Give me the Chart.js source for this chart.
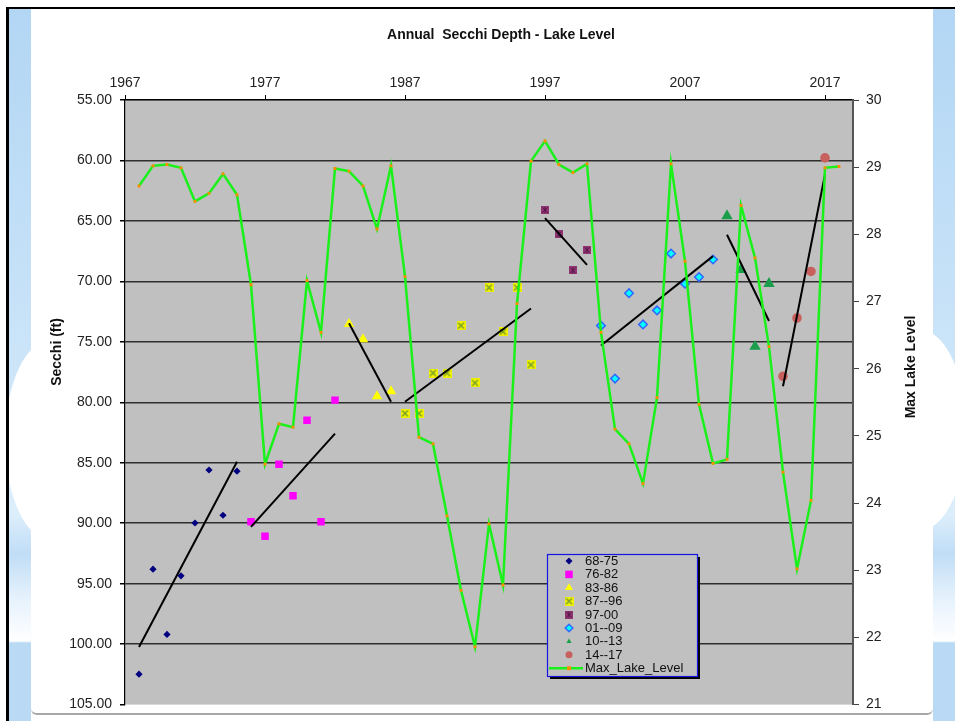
<!DOCTYPE html>
<html>
<head>
<meta charset="utf-8">
<title>Annual Secchi Depth - Lake Level</title>
<script src="https://cdn.jsdelivr.net/npm/chart.js@4.4.1/dist/chart.umd.min.js"></script>
<style>
    html, body { margin: 0; padding: 0; background: #fff; }
    #page { position: relative; width: 955px; height: 721px; overflow: hidden; background: #fff; }
    .topline { position: absolute; left: 6px; top: 7px; right: 0; height: 2px; background: #000; }
    .leftline { position: absolute; left: 6px; top: 7px; width: 3px; bottom: 0; background: #000; }
    .strip { position: absolute; top: 9px; width: 22px; bottom: 0; overflow: hidden;
        background: linear-gradient(to bottom, #b2d6f4 0px, #c9e3f8 320px, #ddeefb 505px, #c0ddf6 545px,
            #e6f2fc 590px, #ffffff 632px, #b9d9f5 634px, #b9d9f5 100%); }
    .strip.left { left: 9px; }
    .strip.right { left: 933px; }
    .blob { position: absolute; width: 92px; height: 200px; border-radius: 50%; background: #fff; }
    .strip.left .blob { left: -4px; top: 331px; }
    .strip.right .blob { left: -59px; top: 321px; }
    .frame { position: absolute; left: 31px; top: 9px; width: 902px; height: 704px; background: #fff;
        border-bottom: 2px solid #a8a8a8; border-radius: 0 0 6px 6px; }
    #lakeChart { position: absolute; left: 0; top: 0; }
</style>
</head>
<body>
<div id="page">
    <div class="strip left"><div class="blob"></div></div>
    <div class="strip right"><div class="blob"></div></div>
    <div class="frame"></div>
    <div class="topline"></div>
    <div class="leftline"></div>
    <canvas id="lakeChart" width="955" height="721"></canvas>
</div>
<script>
// Max lake level (right axis), one value per year
const levelYears = [1968, 1969, 1970, 1971, 1972, 1973, 1974, 1975, 1976, 1977,
    1978, 1979, 1980, 1981, 1982, 1983, 1984, 1985, 1986, 1987,
    1988, 1989, 1990, 1991, 1992, 1993, 1994, 1995, 1996, 1997,
    1998, 1999, 2000, 2001, 2002, 2003, 2004, 2005, 2006, 2007,
    2008, 2009, 2010, 2011, 2012, 2013, 2014, 2015, 2016, 2017, 2018];
const maxLakeLevel = [28.72, 29.02, 29.04, 28.99, 28.49, 28.61, 28.90, 28.59, 27.25, 24.58,
    25.18, 25.13, 27.31, 26.54, 28.98, 28.94, 28.72, 28.08, 29.02, 27.37,
    24.98, 24.88, 23.81, 22.70, 21.86, 23.69, 22.78, 26.97, 29.09, 29.39,
    29.04, 28.92, 29.05, 26.54, 25.10, 24.88, 24.29, 25.57, 29.05, 27.60,
    25.47, 24.59, 24.65, 28.43, 27.65, 26.33, 24.46, 23.02, 24.04, 28.99, 29.01];

// Annual Secchi depth (left axis, ft)
const secchiYears = [1968, 1969, 1970, 1971, 1972, 1973, 1974, 1975, 1976, 1977,
    1978, 1979, 1980, 1981, 1982, 1983, 1984, 1985, 1986, 1987,
    1988, 1989, 1990, 1991, 1992, 1993, 1994, 1995, 1996, 1997,
    1998, 1999, 2000, 2001, 2002, 2003, 2004, 2005, 2006, 2007,
    2008, 2009, 2010, 2011, 2012, 2013, 2014, 2015, 2016, 2017];
const secchiDepth = [102.48, 93.80, 99.20, 94.35, 89.98, 85.60, 89.34, 85.70, 89.87, 91.07,
    85.13, 87.73, 81.49, 89.87, 79.82, 73.53, 74.79, 79.49, 79.08, 80.92,
    80.92, 77.58, 77.58, 73.66, 78.40, 70.52, 74.16, 70.52, 76.90, 64.09,
    66.11, 69.09, 67.40, 73.66, 78.04, 70.98, 73.56, 72.40, 67.70, 70.19,
    69.64, 68.19, 64.58, 69.04, 75.39, 70.19, 77.85, 73.03, 69.18, 59.79];

// Period groups and their trend lines (secchi at first / last year)
const groupLabels = ['68-75', '76-82', '83-86', '87--96', '97-00', '01--09', '10--13', '14--17'];
const groupFirst = [1968, 1976, 1983, 1987, 1997, 2001, 2010, 2014];
const groupLast = [1975, 1982, 1986, 1996, 2000, 2009, 2013, 2017];
const trendStart = [100.24, 90.30, 73.47, 79.95, 64.77, 75.30, 66.14, 78.67];
const trendEnd = [84.91, 82.59, 79.96, 72.24, 68.63, 67.91, 73.28, 61.16];

// Axis ticks
const yearTicks = [1967, 1977, 1987, 1997, 2007, 2017];
const secchiTicks = [55, 60, 65, 70, 75, 80, 85, 90, 95, 100, 105];
const levelTicks = [21, 22, 23, 24, 25, 26, 27, 28, 29, 30];

const chartTitle = 'Annual  Secchi Depth - Lake Level';
const leftTitle = 'Secchi (ft)';
const rightTitle = 'Max Lake Level';
const levelLabel = 'Max_Lake_Level';

const FONT = '"Liberation Sans", Arial, sans-serif';

// small canvas markers for the two patterned series
function makeMarker(size, draw) {
    const c = document.createElement('canvas');
    c.width = size;
    c.height = size;
    draw(c.getContext('2d'), size);
    return c;
}
const crossMarker = makeMarker(9, function (g, s) {
    g.fillStyle = '#f2f200';
    g.fillRect(0, 0, s, s);
    g.strokeStyle = '#6f9a30';
    g.lineWidth = 1.3;
    g.beginPath();
    g.moveTo(1.5, 1.5); g.lineTo(s - 1.5, s - 1.5);
    g.moveTo(s - 1.5, 1.5); g.lineTo(1.5, s - 1.5);
    g.stroke();
});
const starMarker = makeMarker(8, function (g, s) {
    g.fillStyle = '#8e3470';
    g.fillRect(0, 0, s, s);
    g.strokeStyle = '#5a1747';
    g.lineWidth = 1;
    g.beginPath();
    g.moveTo(1.5, 1.5); g.lineTo(s - 1.5, s - 1.5);
    g.moveTo(s - 1.5, 1.5); g.lineTo(1.5, s - 1.5);
    g.moveTo(s / 2, 1); g.lineTo(s / 2, s - 1);
    g.stroke();
});

const groupStyles = [
    { pointStyle: 'rectRot', radius: 3.6, bg: '#000080', border: '#000080', bw: 0, legendRadius: 3.5 },
    { pointStyle: 'rect', radius: 5.3, bg: '#ff00ff', border: '#ff00ff', bw: 0, legendRadius: 5.3 },
    { pointStyle: 'triangle', radius: 6, bg: '#ffff00', border: '#ffff00', bw: 0, legendRadius: 4.6 },
    { pointStyle: crossMarker, radius: 5, bg: '#ffff00', border: '#ffff00', bw: 0, legendRadius: 5 },
    { pointStyle: starMarker, radius: 5, bg: '#8e3470', border: '#8e3470', bw: 0, legendRadius: 5 },
    { pointStyle: 'rectRot', radius: 4.3, bg: '#00ffff', border: '#3366ff', bw: 1.5, legendRadius: 3.8 },
    { pointStyle: 'triangle', radius: 6.6, bg: '#1a9e4c', border: '#1a9e4c', bw: 0, legendRadius: 3 },
    { pointStyle: 'circle', radius: 4.8, bg: '#c8605e', border: '#c8605e', bw: 0, legendRadius: 3.5 }
];

const datasets = [];

// lake level line, drawn on top
datasets.push({
    label: levelLabel,
    data: levelYears.map((yr, i) => ({ x: yr, y: maxLakeLevel[i] })),
    yAxisID: 'y2',
    showLine: true,
    borderColor: '#1af01a',
    borderWidth: 2.5,
    pointStyle: 'rect',
    pointRadius: 2,
    pointBackgroundColor: '#ff8c00',
    pointBorderColor: '#ff8c00',
    pointBorderWidth: 0,
    order: 1
});

groupLabels.forEach(function (label, g) {
    const st = groupStyles[g];
    const pts = [];
    secchiYears.forEach(function (yr, i) {
        if (yr >= groupFirst[g] && yr <= groupLast[g]) {
            pts.push({ x: yr, y: secchiDepth[i] });
        }
    });
    datasets.push({
        label: label,
        data: pts,
        yAxisID: 'y',
        pointStyle: st.pointStyle,
        pointRadius: st.radius,
        pointBackgroundColor: st.bg,
        pointBorderColor: st.border,
        pointBorderWidth: st.bw,
        order: 3
    });
    // trend line for the period
    datasets.push({
        label: label + ' trend',
        data: [{ x: groupFirst[g], y: trendStart[g] }, { x: groupLast[g], y: trendEnd[g] }],
        yAxisID: 'y',
        showLine: true,
        borderColor: '#000',
        borderWidth: 2,
        pointRadius: 0,
        order: 2
    });
});

// plot background, titles and the boxed legend
const decorPlugin = {
    id: 'decor',
    beforeDraw(chart) {
        const a = chart.chartArea;
        const ctx = chart.ctx;
        ctx.save();
        ctx.fillStyle = '#c0c0c0';
        ctx.fillRect(a.left, a.top, a.right - a.left, a.bottom - a.top);
        ctx.restore();
    },
    afterDraw(chart) {
        const ctx = chart.ctx;
        ctx.save();
        ctx.fillStyle = '#111';
        ctx.textAlign = 'center';
        ctx.textBaseline = 'middle';
        ctx.font = 'bold 14px ' + FONT;
        ctx.fillText(chartTitle, 501, 35);

        ctx.save();
        ctx.translate(57, 352);
        ctx.rotate(-Math.PI / 2);
        ctx.fillText(leftTitle, 0, 0);
        ctx.restore();

        ctx.save();
        ctx.translate(911, 367);
        ctx.rotate(-Math.PI / 2);
        ctx.fillText(rightTitle, 0, 0);
        ctx.restore();

        // legend box
        const lx = 547, ly = 554, lw = 150, lh = 122;
        ctx.fillStyle = '#000';
        ctx.fillRect(lx + 3, ly + 3, lw, lh);
        ctx.fillStyle = '#c0c0c0';
        ctx.fillRect(lx, ly, lw, lh);
        ctx.strokeStyle = '#1414e6';
        ctx.lineWidth = 1.2;
        ctx.strokeRect(lx + 0.5, ly + 0.5, lw, lh);

        const drawPoint = Chart.helpers.drawPoint;
        ctx.font = '13px ' + FONT;
        ctx.textAlign = 'left';
        groupLabels.forEach(function (label, g) {
            const st = groupStyles[g];
            const rowY = 561 + g * 13.4;
            ctx.fillStyle = st.bg;
            ctx.strokeStyle = st.border;
            ctx.lineWidth = st.bw;
            drawPoint(ctx, { pointStyle: st.pointStyle, radius: st.legendRadius, rotation: 0, borderWidth: st.bw }, 569, rowY);
            ctx.fillStyle = '#111';
            ctx.fillText(label, 585, rowY + 0.5);
        });
        const rowY = 561 + 8 * 13.4;
        ctx.strokeStyle = '#1af01a';
        ctx.lineWidth = 2.5;
        ctx.beginPath();
        ctx.moveTo(549, rowY);
        ctx.lineTo(583, rowY);
        ctx.stroke();
        ctx.fillStyle = '#ff8c00';
        ctx.fillRect(567, rowY - 2, 4, 4);
        ctx.fillStyle = '#111';
        ctx.fillText(levelLabel, 585, rowY + 0.5);
        ctx.restore();
    }
};

const tickFont = { family: FONT, size: 14 };

const ctx = document.getElementById('lakeChart').getContext('2d');
const chart = new Chart(ctx, {
    type: 'scatter',
    data: { datasets: datasets },
    options: {
        responsive: false,
        animation: false,
        events: [],
        layout: { padding: { left: 0, right: 0, top: 0, bottom: 12 } },
        elements: { line: { tension: 0 } },
        plugins: {
            legend: { display: false },
            title: { display: false },
            tooltip: { enabled: false }
        },
        scales: {
            x: {
                type: 'linear',
                position: 'top',
                min: 1967,
                max: 2019,
                afterBuildTicks: s => { s.ticks = yearTicks.map(v => ({ value: v })); },
                afterFit: s => { s.height = 100; },
                grid: { drawOnChartArea: false, drawTicks: true, tickLength: 5, color: '#000', tickColor: '#000' },
                border: { color: '#000', width: 1.2 },
                ticks: {
                    font: tickFont,
                    color: '#222',
                    padding: 3,
                    maxRotation: 0,
                    autoSkip: false,
                    callback: v => String(v)
                }
            },
            y: {
                type: 'linear',
                position: 'left',
                reverse: true,
                min: 55,
                max: 105,
                afterBuildTicks: s => { s.ticks = secchiTicks.map(v => ({ value: v })); },
                afterFit: s => { s.width = 125; },
                grid: {
                    color: c => (c.tick && c.tick.value === 105) ? 'rgba(0,0,0,0)' : '#2e2e2e',
                    lineWidth: 1.5,
                    tickLength: 5,
                    tickColor: '#000'
                },
                border: { color: '#000', width: 1.2 },
                ticks: {
                    font: tickFont,
                    color: '#222',
                    padding: 8,
                    autoSkip: false,
                    callback: v => Number(v).toFixed(2)
                }
            },
            y2: {
                type: 'linear',
                position: 'right',
                min: 21,
                max: 30,
                afterBuildTicks: s => { s.ticks = levelTicks.map(v => ({ value: v })); },
                afterFit: s => { s.width = 102; },
                grid: { drawOnChartArea: false, tickLength: 6, color: '#555', tickColor: '#444' },
                border: { color: '#555', width: 2 },
                ticks: {
                    font: tickFont,
                    color: '#222',
                    padding: 7,
                    autoSkip: false,
                    callback: v => String(v)
                }
            }
        }
    },
    plugins: [decorPlugin]
});
</script>
</body>
</html>
